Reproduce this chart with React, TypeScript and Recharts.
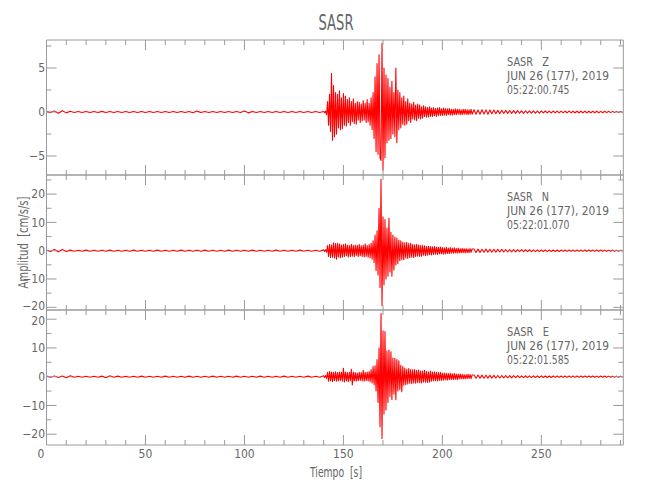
import React from "react";
import { LineChart, Line, XAxis, YAxis } from "recharts";

// ---- sampling layout of the traces (seconds) ----
const PRE_START = 0;
const PRE_STEP = 2;
const EV_START = 140;
const EV_STEP = 0.5;
const POST_START = 216;
const POST_STEP = 1;

// ---- Z component (cm/s/s) ----
const zPre = [
  0.06, -0.07, 0.12, -0.14, 0.15, -0.1, 0.08, -0.06, 0.06, -0.05,
  0.06, -0.06, 0.05, -0.06, 0.07, -0.06, 0.05, -0.05, 0.06, -0.05,
  0.05, -0.06, 0.05, -0.05, 0.06, -0.05, 0.05, -0.06, 0.05, -0.05,
  0.06, -0.05, 0.05, -0.06, 0.05, -0.05, 0.06, -0.08, 0.1, -0.06,
  0.05, -0.05, 0.06, -0.05, 0.05, -0.06, 0.05, -0.05, 0.06, -0.06,
  0.11, -0.1, 0.06, -0.05, 0.05, -0.06, 0.05, -0.05, 0.06, -0.05,
  0.05, -0.06, 0.05, -0.05, 0.06, -0.05, 0.05, -0.06, 0.05, -0.05,
];
const zEvent = [
  0.05, -0.08, 0.1, -0.3, 1.2, -1.5, 2.0, -2.2, 4.4, -3.2,
  3.0, -2.8, 2.2, -2.5, 2.0, -1.8, 2.4, -2.0, 1.6, -1.9,
  2.1, -1.5, 1.8, -1.6, 1.4, -1.2, 1.6, -1.5, 1.2, -1.1,
  1.5, -1.3, 1.0, -1.4, 1.2, -0.9, 1.1, -1.2, 0.9, -1.0,
  1.3, -0.9, 1.0, -1.2, 1.4, -1.1, 1.0, -1.5, 1.6, -2.0,
  2.2, -3.0, 4.0, -4.5, 5.5, -4.8, 6.5, -5.2, -5.5, 7.8,
  -6.6, 5.0, -5.2, 4.2, -3.5, 3.8, -3.2, 2.8, -3.0, 3.5,
  -2.5, 2.2, -2.8, 5.0, -3.5, 2.5, -2.0, 2.2, -1.8, 1.6,
  -1.4, 1.8, -1.5, 1.2, -1.4, 1.5, -1.0, 1.0, -1.2, 0.9,
  -0.8, 1.1, -0.9, 0.8, -1.0, 0.9, -0.7, 0.8, -0.8, 0.6,
  -0.7, 0.7, -0.5, 0.6, -0.6, 0.5, -0.55, 0.6, -0.5, 0.45,
  -0.5, 0.5, -0.45, 0.4, -0.5, 0.45, -0.4, 0.5, -0.4, 0.35,
  -0.4, 0.45, -0.35, 0.4, -0.4, 0.35, -0.3, 0.4, -0.35, 0.3,
  -0.35, 0.3, -0.3, 0.35, -0.3, 0.3, -0.25, 0.3, -0.3, 0.25,
  -0.3, 0.3, -0.25, 0.3, -0.28, 0.25, -0.3, 0.25, -0.25, 0.3,
  -0.25,
];
const zPost = [
  0.25, -0.26, 0.22, -0.25, 0.26, -0.22, 0.24, -0.25, 0.22, -0.2,
  0.22, -0.2, 0.18, -0.2, 0.19, -0.17, 0.18, -0.16, 0.17, -0.16,
  0.15, -0.16, 0.15, -0.14, 0.13, -0.15, 0.14, -0.12, 0.13, -0.12,
  0.12, -0.13, 0.11, -0.12, 0.12, -0.1, 0.11, -0.1, 0.1, -0.11,
  0.1, -0.09, 0.1, -0.1, 0.09, -0.1, 0.09, -0.09, 0.1, -0.08,
  0.09, -0.08, 0.09, -0.09, 0.08, -0.09, 0.08, -0.08, 0.09, -0.08,
  0.08, -0.08, 0.08, -0.08, 0.07, -0.08, 0.08, -0.07, 0.08, -0.07,
  0.07, -0.07, 0.07, -0.07, 0.07, -0.07,
];

// ---- N component ----
const nPre = [
  0.2, -0.25, 0.45, -0.4, 0.42, -0.3, 0.2, -0.2, 0.18, -0.2,
  0.2, -0.17, 0.18, -0.2, 0.17, -0.18, 0.2, -0.17, 0.18, -0.2,
  0.17, -0.18, 0.2, -0.17, 0.18, -0.2, 0.17, -0.18, 0.2, -0.17,
  0.18, -0.2, 0.17, -0.18, 0.2, -0.17, 0.18, -0.2, 0.17, -0.18,
  0.2, -0.17, 0.18, -0.2, 0.17, -0.18, 0.2, -0.17, 0.18, -0.2,
  0.17, -0.18, 0.2, -0.17, 0.18, -0.2, 0.17, -0.18, 0.2, -0.17,
  0.18, -0.2, 0.17, -0.18, 0.2, -0.17, 0.18, -0.2, 0.17, -0.2,
];
const nEvent = [
  0.3, -0.3, 0.35, -0.5, 1.8, -2.0, 2.2, -2.4, 2.0, -2.3,
  2.8, -2.6, 2.5, -3.0, 2.6, -2.2, 2.4, -2.5, 2.0, -2.3,
  2.2, -2.0, 2.4, -1.8, 2.0, -2.2, 1.8, -2.0, 2.3, -1.9,
  1.8, -2.1, 2.0, -1.7, 1.9, -2.0, 2.2, -1.8, 1.7, -2.0,
  1.9, -2.2, 2.4, -2.0, 1.8, -2.3, 2.2, -2.5, 2.6, -3.0,
  3.5, -4.2, 5.5, -7.0, 7.0, -8.6, 15.0, -13.0, 25.2, -19.4,
  12.0, -12.0, 11.0, -10.0, 8.0, -9.0, 11.5, -7.5, 6.5, -9.0,
  5.5, -6.8, 4.8, -5.0, 4.5, -4.5, 3.8, -3.5, 3.5, -3.2,
  3.0, -3.2, 2.8, -2.6, 3.0, -2.7, 2.5, -2.4, 2.6, -2.3,
  2.2, -2.4, 2.1, -2.0, 2.3, -1.9, 2.0, -2.0, 1.8, -1.9,
  1.8, -1.6, 1.7, -1.8, 1.5, -1.6, 1.6, -1.4, 1.5, -1.5,
  1.4, -1.3, 1.5, -1.2, 1.3, -1.3, 1.2, -1.1, 1.3, -1.1,
  1.1, -1.2, 1.0, -1.1, 1.2, -1.0, 0.9, -1.0, 1.1, -0.9,
  0.9, -0.9, 1.0, -0.8, 0.8, -0.9, 0.9, -0.8, 0.7, -0.8,
  0.8, -0.7, 0.7, -0.8, 0.7, -0.7, 0.6, -0.7, 0.7, -0.6,
  0.6,
];
const nPost = [
  0.6, -0.6, 0.55, -0.6, 0.5, -0.55, 0.55, -0.5, 0.5, -0.5,
  0.5, -0.5, 0.45, -0.45, 0.45, -0.45, 0.42, -0.45, 0.42, -0.4,
  0.4, -0.42, 0.38, -0.36, 0.38, -0.36, 0.34, -0.35, 0.34, -0.32,
  0.32, -0.33, 0.3, -0.3, 0.31, -0.29, 0.28, -0.3, 0.28, -0.27,
  0.27, -0.27, 0.26, -0.27, 0.26, -0.25, 0.26, -0.24, 0.25, -0.25,
  0.24, -0.24, 0.25, -0.23, 0.23, -0.24, 0.23, -0.22, 0.23, -0.22,
  0.22, -0.23, 0.22, -0.22, 0.22, -0.21, 0.21, -0.22, 0.21, -0.21,
  0.21, -0.2, 0.21, -0.2, 0.2, -0.2,
];

// ---- E component ----
const ePre = [
  0.2, -0.2, 0.25, -0.3, 0.22, -0.38, 0.35, -0.2, 0.18, -0.2,
  0.17, -0.2, 0.18, -0.17, 0.2, -0.35, 0.3, -0.18, 0.2, -0.17,
  0.18, -0.2, 0.17, -0.18, 0.2, -0.17, 0.18, -0.2, 0.17, -0.18,
  0.2, -0.18, 0.17, -0.2, 0.18, -0.17, 0.2, -0.18, 0.17, -0.2,
  0.18, -0.17, 0.2, -0.18, 0.17, -0.2, 0.18, -0.17, 0.2, -0.18,
  0.17, -0.2, 0.18, -0.17, 0.2, -0.18, 0.17, -0.2, 0.18, -0.17,
  0.2, -0.18, 0.17, -0.2, 0.18, -0.17, 0.2, -0.18, 0.17, -0.2,
];
const eEvent = [
  0.3, -0.3, 0.4, -0.6, 1.5, -1.6, 1.8, -1.5, 1.6, -1.7,
  1.5, -1.4, 1.7, -1.6, 1.4, -1.5, 1.6, -1.3, 1.5, -1.6,
  2.9, -1.8, 1.6, -1.5, 1.4, -1.7, 1.5, -1.4, 2.6, -2.9,
  1.6, -1.5, 1.4, -1.6, 1.3, -1.4, 1.5, -1.3, 1.4, -1.5,
  2.2, -1.6, 1.5, -1.4, 1.6, -1.5, 1.8, -1.7, 2.5, -2.2,
  3.5, -2.8, 3.8, -5.0, 6.0, -9.0, 10.0, -17.4, 22.0, -21.5,
  16.0, -13.0, 15.7, -11.6, 9.0, -9.0, 9.3, -7.0, 8.7, -7.9,
  6.5, -6.0, 6.4, -8.0, 6.0, -5.0, 5.5, -4.5, 4.0, -5.2,
  3.5, -3.0, 3.0, -2.8, 2.6, -2.5, 2.8, -2.3, 2.5, -2.4,
  2.4, -2.2, 2.5, -2.3, 2.2, -2.0, 2.3, -2.1, 2.0, -2.2,
  2.0, -1.8, 2.2, -1.9, 1.8, -2.0, 1.7, -1.8, 1.9, -1.6,
  1.6, -1.5, 1.7, -1.4, 1.5, -1.5, 1.4, -1.3, 1.5, -1.3,
  1.3, -1.2, 1.3, -1.1, 1.2, -1.2, 1.1, -1.0, 1.2, -1.0,
  1.0, -1.0, 1.1, -0.9, 0.9, -1.0, 0.9, -0.8, 0.9, -0.8,
  0.8, -0.8, 0.7, -0.8, 0.7, -0.7, 0.8, -0.6, 0.7, -0.7,
  0.6,
];
const ePost = [
  0.6, -0.55, 0.6, -0.5, 0.55, -0.55, 0.5, -0.5, 0.48, -0.5,
  0.48, -0.45, 0.42, -0.45, 0.42, -0.4, 0.42, -0.38, 0.38, -0.4,
  0.36, -0.34, 0.36, -0.35, 0.32, -0.34, 0.32, -0.3, 0.3, -0.31,
  0.3, -0.28, 0.3, -0.27, 0.28, -0.28, 0.26, -0.27, 0.26, -0.26,
  0.26, -0.25, 0.24, -0.25, 0.25, -0.24, 0.24, -0.23, 0.24, -0.24,
  0.23, -0.23, 0.22, -0.23, 0.23, -0.22, 0.22, -0.21, 0.22, -0.22,
  0.21, -0.22, 0.2, -0.21, 0.21, -0.2, 0.21, -0.2, 0.2, -0.21,
  0.2, -0.19, 0.2, -0.2, 0.19, -0.2,
];

// ---- axes ----
const xTicks = [0, 10, 20, 30, 40, 50, 60, 70, 80, 90, 100, 110, 120, 130, 140, 150, 160, 170, 180, 190, 200, 210, 220, 230, 240, 250, 260, 270, 280, 290];
const xLabels = [0, 50, 100, 150, 200, 250];
const xDomain = [0, 291.4];

const zTicks = [-5, -2.5, 0, 2.5, 5, 7.5];
const zLabels = [-5, 0, 5];
const nTicks = [-20, -15, -10, -5, 0, 5, 10, 15, 20, 25];
const nLabels = [-20, -10, 0, 10, 20];
const eTicks = [-20, -15, -10, -5, 0, 5, 10, 15, 20];
const eLabels = [-20, -10, 0, 10, 20];

const stationName = "SASR";
const dateLine = "JUN 26 (177), 2019";
const componentNames = ["Z", "N", "E"];
const startTimes = ["05:22:00.745", "05:22:01.070", "05:22:01.585"];

const FONT = "'Liberation Sans Narrow', 'DejaVu Sans Condensed', 'Liberation Sans', sans-serif";
const AXIS = "#9a9a9a";
const TXT = "#666666";
const TRACE = "#ff0000";

const W = 650;
const H = 500;
const PLOT_LEFT = 46.5;
const PLOT_RIGHT = 623.3;

function build(pre: number[], ev: number[], post: number[]) {
  const pts: { t: number; v: number }[] = [];
  pre.forEach((v, i) => pts.push({ t: PRE_START + i * PRE_STEP, v }));
  ev.forEach((v, i) => pts.push({ t: EV_START + i * EV_STEP, v }));
  post.forEach((v, i) => pts.push({ t: POST_START + i * POST_STEP, v }));
  return pts;
}

const fmt = (v: number) => (v < 0 ? "\u2212" + Math.abs(v) : String(v));

const panels = [
  { data: build(zPre, zEvent, zPost), domain: [-7.16, 8.18], ticks: zTicks, labels: zLabels, top: 40, bottom: 175 },
  { data: build(nPre, nEvent, nPost), domain: [-20.95, 26.75], ticks: nTicks, labels: nLabels, top: 175, bottom: 310 },
  { data: build(ePre, eEvent, ePost), domain: [-23.76, 23.2], ticks: eTicks, labels: eLabels, top: 310, bottom: 445 },
];

function Panel({ p, idx }: { p: any; idx: number }) {
  const showX = idx === 2;
  return (
    <div style={{ position: "absolute", left: 0, top: 0 }}>
      <LineChart
        width={W}
        height={H}
        data={p.data}
        margin={{ top: p.top - 1, bottom: H - p.bottom - 1, left: PLOT_LEFT - 1, right: W - PLOT_RIGHT - 1 }}
      >
        <XAxis
          xAxisId="b"
          dataKey="t"
          type="number"
          orientation="bottom"
          domain={xDomain}
          ticks={xTicks}
          interval={0}
          height={1}
          tickSize={0}
          tickMargin={0}
          tickLine={false}
          axisLine={{ stroke: AXIS }}
          allowDataOverflow
          tick={(t: any) => {
            const v = t.payload.value;
            const major = xLabels.includes(v);
            return (
              <g key={"xb" + v}>
                <line x1={t.x} x2={t.x} y1={t.y} y2={t.y - (major ? 10 : 5)} stroke={AXIS} />
                {showX && major && (
                  <text
                    x={v === 0 ? t.x - 5.5 : t.x}
                    y={t.y + 12.5}
                    textAnchor="middle"
                    fontSize={12}
                    fontFamily={FONT}
                    fill={TXT}
                  >
                    {fmt(v)}
                  </text>
                )}
              </g>
            );
          }}
        />
        <XAxis
          xAxisId="t"
          dataKey="t"
          type="number"
          orientation="top"
          domain={xDomain}
          ticks={xTicks}
          interval={0}
          height={1}
          tickSize={0}
          tickMargin={0}
          tickLine={false}
          axisLine={{ stroke: AXIS }}
          allowDataOverflow
          tick={(t: any) => {
            const v = t.payload.value;
            const major = xLabels.includes(v);
            return (
              <g key={"xt" + v}>
                <line x1={t.x} x2={t.x} y1={t.y} y2={t.y + (major ? 10 : 5)} stroke={AXIS} />
              </g>
            );
          }}
        />
        <YAxis
          yAxisId="l"
          type="number"
          orientation="left"
          domain={p.domain}
          ticks={p.ticks}
          interval={0}
          width={1}
          tickSize={0}
          tickMargin={0}
          tickLine={false}
          axisLine={{ stroke: AXIS }}
          allowDataOverflow
          tick={(t: any) => {
            const v = t.payload.value;
            const major = p.labels.includes(v);
            // nudge the labels where two panels meet so they stay readable
            let dy = 0;
            if (idx === 1 && v === -20) dy = -2;
            if (idx === 2 && v === 20) dy = 1.5;
            return (
              <g key={"yl" + v}>
                <line x1={t.x} x2={t.x + (major ? 10 : 5)} y1={t.y} y2={t.y} stroke={AXIS} />
                {major && (
                  <text x={t.x - 1.5} y={t.y + 4.2 + dy} textAnchor="end" fontSize={12} fontFamily={FONT} fill={TXT}>
                    {fmt(v)}
                  </text>
                )}
              </g>
            );
          }}
        />
        <YAxis
          yAxisId="r"
          type="number"
          orientation="right"
          domain={p.domain}
          ticks={p.ticks}
          interval={0}
          width={1}
          tickSize={0}
          tickMargin={0}
          tickLine={false}
          axisLine={{ stroke: AXIS }}
          allowDataOverflow
          tick={(t: any) => {
            const v = t.payload.value;
            const major = p.labels.includes(v);
            return (
              <g key={"yr" + v}>
                <line x1={t.x} x2={t.x - (major ? 10 : 5)} y1={t.y} y2={t.y} stroke={AXIS} />
              </g>
            );
          }}
        />
        <Line
          xAxisId="b"
          yAxisId="l"
          dataKey="v"
          type="linear"
          stroke={TRACE}
          strokeWidth={1.1}
          strokeLinejoin="round"
          dot={false}
          isAnimationActive={false}
        />
      </LineChart>
    </div>
  );
}

export default function App() {
  return (
    <div style={{ position: "absolute", left: 0, top: 0, width: W, height: H, background: "#fff" }}>
      {panels.map((p, i) => (
        <Panel key={i} p={p} idx={i} />
      ))}
      <svg
        width={W}
        height={H}
        style={{ position: "absolute", left: 0, top: 0, pointerEvents: "none" }}
        fontFamily={FONT}
      >
        <text x={336} y={30} textAnchor="middle" fontSize={21} fill={TXT} textLength={35} lengthAdjust="spacingAndGlyphs">
          {stationName}
        </text>
        {panels.map((p, i) => (
          <g key={"ann" + i} fill={TXT} fontSize={13}>
            <text x={507} y={p.top + 26} textLength={42} lengthAdjust="spacingAndGlyphs" style={{ whiteSpace: "pre" }}>
              {stationName + "   " + componentNames[i]}
            </text>
            <text x={507} y={p.top + 40} textLength={102} lengthAdjust="spacingAndGlyphs">
              {dateLine}
            </text>
            <text x={507} y={p.top + 54} textLength={62.5} lengthAdjust="spacingAndGlyphs">
              {startTimes[i]}
            </text>
          </g>
        ))}
        <text x={336} y={476.5} textAnchor="middle" fontSize={14} fill={TXT} textLength={52} lengthAdjust="spacingAndGlyphs" style={{ whiteSpace: "pre" }}>
          {"Tiempo  [s]"}
        </text>
        <text
          x={0}
          y={0}
          transform="translate(27.5,242.5) rotate(-90)"
          textAnchor="middle"
          fontSize={14}
          fill={TXT}
          textLength={92}
          lengthAdjust="spacingAndGlyphs"
          style={{ whiteSpace: "pre" }}
        >
          {"Amplitud  [cm/s/s]"}
        </text>
      </svg>
    </div>
  );
}
